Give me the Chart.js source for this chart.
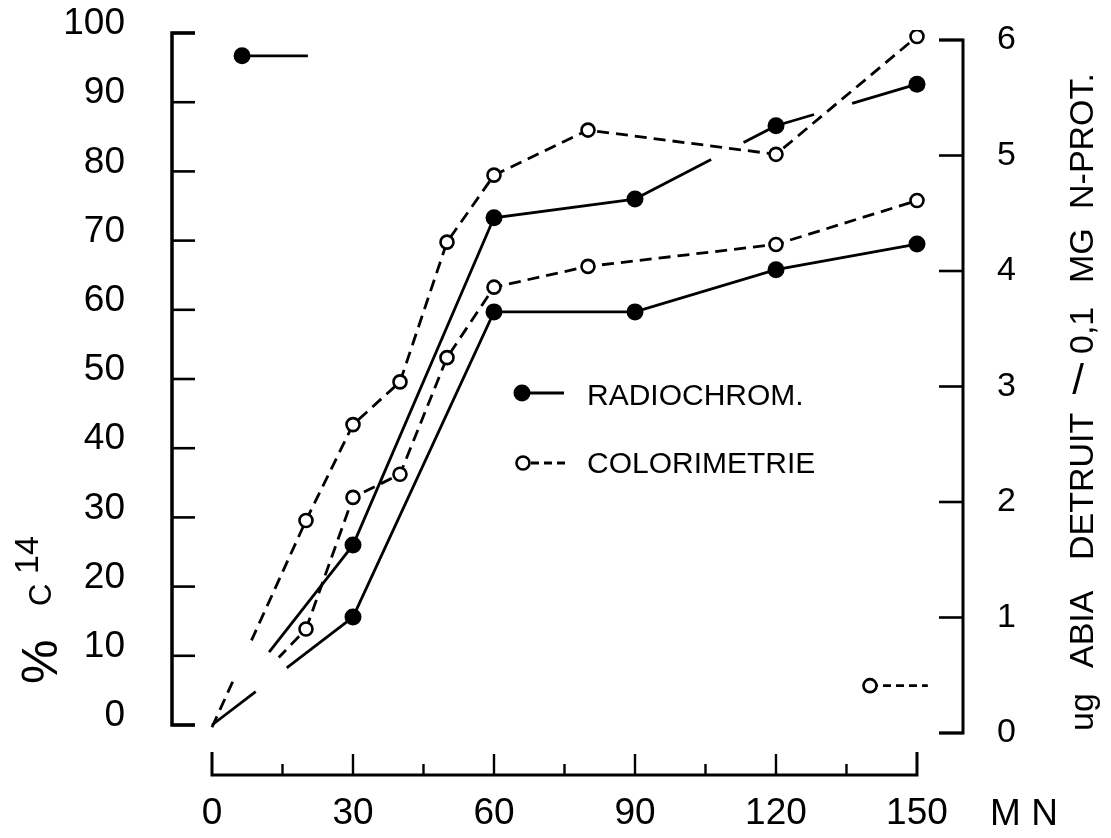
<!DOCTYPE html>
<html>
<head>
<meta charset="utf-8">
<script src="https://cdn.jsdelivr.net/npm/chart.js@4.4.1/dist/chart.umd.min.js"></script>
<style>
html,body{margin:0;padding:0;background:#fff;}
#wrap{width:1111px;height:838px;position:relative;}
</style>
</head>
<body>
<div id="wrap"><canvas id="c" width="1111" height="838"></canvas></div>
<script>
// ---------- data ----------
const radioMinutes = [0, 30, 60, 90, 120, 150];
const radioHigh    = [0, 26.0, 73.3, 76.0, 86.6, 92.6];   // % C14
const radioLow     = [0, 15.6, 59.7, 59.7, 65.8, 69.5];   // % C14
const colorMinutes = [0, 20, 30, 40, 50, 60, 80, 120, 150];
const colorHigh    = [0.05, 1.84, 2.67, 3.04, 4.25, 4.83, 5.22, 5.01, 6.03]; // ug ABIA
const colorLow     = [0.05, 0.90, 2.04, 2.24, 3.25, 3.86, 4.04, 4.23, 4.61]; // ug ABIA
const keyRadioX = [6.4, 20.4];
const keyRadioY = [96.7, 96.7];
const keyColorX = [140, 152.3];
const keyColorY = [0.41, 0.41];

const xTicks      = [0, 30, 60, 90, 120, 150];
const xMinorTicks = [15, 45, 75, 105, 135];
const leftTicks   = [0, 10, 20, 30, 40, 50, 60, 70, 80, 90, 100];
const rightTicks  = [0, 1, 2, 3, 4, 5, 6];
const seriesNames = ['RADIOCHROM.', 'COLORIMETRIE'];
const leftTitle   = ['%', 'C', '14'];
const rightTitle  = ['ug', 'ABIA', 'DETRUIT', '/', '0,1', 'MG', 'N-PROT.'];
const xUnit = 'M N';

// ---------- styling ----------
const FONT = "'Liberation Sans', Arial, sans-serif";
// hand-drawn interruptions of some segments (fraction of segment length)
const GAPS = {
  radioHigh: {0: [0, 0.405], 3: [0.54, 0.77], 4: [0.27, 0.54]},
  radioLow:  {0: [0.31, 0.53]},
  colorHigh: {0: [0.24, 0.42]},
  colorLow:  {0: [0, 0.71]}
};
const DASH = [12, 7];

function gapDash(gaps, pattern) {
  return ctx => {
    const g = gaps[ctx.p0DataIndex];
    if (!g) return undefined;
    const L = Math.hypot(ctx.p1.x - ctx.p0.x, ctx.p1.y - ctx.p0.y);
    const on = [];
    if (!pattern.length) on.push([0, L]);
    else {
      let p = 0, i = 0;
      while (p < L) {
        const len = pattern[i % pattern.length];
        if (i % 2 === 0) on.push([p, Math.min(p + len, L)]);
        p += len; i++;
      }
    }
    const a = g[0] * L, b = g[1] * L;
    const res = [];
    for (const [s, e] of on) {
      if (e <= a || s >= b) res.push([s, e]);
      else { if (s < a) res.push([s, a]); if (e > b) res.push([b, e]); }
    }
    const arr = [0]; let cur = 0;
    for (const [s, e] of res) { arr.push(s - cur); arr.push(e - s); cur = e; }
    arr.push(L + 1000);
    return arr;
  };
}

const toXY = (xs, ys) => xs.map((x, i) => ({x, y: ys[i]}));

const decor = {
  id: 'decor',
  afterDraw(chart) {
    const {ctx, chartArea, scales} = chart;
    const X = scales.x, Y = scales.y, Y1 = scales.y1;
    ctx.save();
    ctx.strokeStyle = '#000'; ctx.fillStyle = '#000';
    ctx.lineCap = 'butt'; ctx.lineJoin = 'miter';

    // left axis
    const lx = chartArea.left;
    ctx.lineWidth = 3.5;
    ctx.beginPath();
    ctx.moveTo(lx + 23, Y.getPixelForValue(leftTicks[leftTicks.length - 1]));
    ctx.lineTo(lx, Y.getPixelForValue(leftTicks[leftTicks.length - 1]));
    ctx.lineTo(lx, Y.getPixelForValue(leftTicks[0]));
    ctx.lineTo(lx + 23, Y.getPixelForValue(leftTicks[0]));
    ctx.stroke();
    ctx.lineWidth = 2.6;
    leftTicks.forEach(v => {
      const p = Y.getPixelForValue(v);
      ctx.beginPath(); ctx.moveTo(lx, p); ctx.lineTo(lx + 23, p); ctx.stroke();
    });

    // right axis
    const rx = chartArea.right;
    ctx.lineWidth = 3;
    ctx.beginPath();
    ctx.moveTo(rx - 24, Y1.getPixelForValue(rightTicks[rightTicks.length - 1]));
    ctx.lineTo(rx, Y1.getPixelForValue(rightTicks[rightTicks.length - 1]));
    ctx.lineTo(rx, Y1.getPixelForValue(rightTicks[0]));
    ctx.lineTo(rx - 24, Y1.getPixelForValue(rightTicks[0]));
    ctx.stroke();
    ctx.lineWidth = 2.6;
    rightTicks.forEach(v => {
      const p = Y1.getPixelForValue(v);
      ctx.beginPath(); ctx.moveTo(rx - 24, p); ctx.lineTo(rx, p); ctx.stroke();
    });

    // bottom time axis
    const ay = chartArea.bottom + 30;
    const x0 = X.getPixelForValue(xTicks[0]), x1 = X.getPixelForValue(xTicks[xTicks.length - 1]);
    ctx.lineWidth = 3;
    ctx.beginPath();
    ctx.moveTo(x0, ay - 23); ctx.lineTo(x0, ay); ctx.lineTo(x1, ay); ctx.lineTo(x1, ay - 23);
    ctx.stroke();
    ctx.lineWidth = 2.4;
    xTicks.slice(1, -1).forEach(v => {
      const p = X.getPixelForValue(v);
      ctx.beginPath(); ctx.moveTo(p, ay); ctx.lineTo(p, ay - 21); ctx.stroke();
    });
    xMinorTicks.forEach(v => {
      const p = X.getPixelForValue(v);
      ctx.beginPath(); ctx.moveTo(p, ay); ctx.lineTo(p, ay - 11); ctx.stroke();
    });

    // x unit
    ctx.font = '37px ' + FONT;
    ctx.textAlign = 'center'; ctx.textBaseline = 'middle';
    ctx.fillText(xUnit, 1024, 815);

    // rotated text helper (reads bottom to top)
    const rot = (txt, font, bx, startY) => {
      ctx.save();
      ctx.translate(bx, startY);
      ctx.rotate(-Math.PI / 2);
      ctx.font = font; ctx.textAlign = 'left'; ctx.textBaseline = 'alphabetic';
      ctx.fillText(txt, 0, 0);
      ctx.restore();
    };
    // left title  % C14
    rot(leftTitle[0], '50px ' + FONT, 57, 684);
    rot(leftTitle[1], '31px ' + FONT, 51, 606);
    rot(leftTitle[2], '34px ' + FONT, 38, 574);

    // right title
    const rf = '34px ' + FONT;
    rot(rightTitle[0], rf, 1093, 731);
    rot(rightTitle[1], rf, 1093, 668);
    rot(rightTitle[2], rf, 1093, 560);
    ctx.font = '42px ' + FONT; ctx.textAlign = 'center'; ctx.textBaseline = 'middle';
    ctx.fillText(rightTitle[3], 1078, 382);
    rot(rightTitle[4], rf, 1093, 354);
    rot(rightTitle[5], rf, 1093, 283);
    rot(rightTitle[6], rf, 1093, 209);

    // legend
    ctx.lineWidth = 2.8;
    ctx.beginPath(); ctx.arc(522, 393, 8.5, 0, Math.PI * 2); ctx.fill();
    ctx.beginPath(); ctx.moveTo(530, 393); ctx.lineTo(564, 393); ctx.stroke();
    ctx.setLineDash([8, 5]);
    ctx.beginPath(); ctx.moveTo(531, 463); ctx.lineTo(568, 463); ctx.stroke();
    ctx.setLineDash([]);
    ctx.lineWidth = 2.6; ctx.fillStyle = '#fff';
    ctx.beginPath(); ctx.arc(523, 463, 6.5, 0, Math.PI * 2); ctx.fill(); ctx.stroke();
    ctx.fillStyle = '#000';
    ctx.font = '30px ' + FONT; ctx.textAlign = 'left'; ctx.textBaseline = 'alphabetic';
    ctx.fillText(seriesNames[0], 587, 405);
    ctx.fillText(seriesNames[1], 587, 473);
    ctx.restore();
  }
};

const filled = {
  borderColor: '#000', borderWidth: 2.8, fill: false, tension: 0,
  pointBackgroundColor: '#000', pointBorderColor: '#000', pointBorderWidth: 0,
  pointRadius: c => c.dataIndex === 0 ? 0 : 8.5
};
const open = {
  borderColor: '#000', borderWidth: 2.8, fill: false, tension: 0, borderDash: DASH,
  pointBackgroundColor: '#fff', pointBorderColor: '#000', pointBorderWidth: 2.6,
  pointRadius: c => c.dataIndex === 0 ? 0 : 6.5
};

new Chart(document.getElementById('c'), {
  type: 'line',
  data: {
    datasets: [
      Object.assign({}, open, {label: seriesNames[1] + ' a', yAxisID: 'y1', data: toXY(colorMinutes, colorHigh),
        segment: {borderDash: gapDash(GAPS.colorHigh, DASH)}}),
      Object.assign({}, open, {label: seriesNames[1] + ' b', yAxisID: 'y1', data: toXY(colorMinutes, colorLow),
        segment: {borderDash: gapDash(GAPS.colorLow, DASH)}}),
      Object.assign({}, filled, {label: seriesNames[0] + ' a', yAxisID: 'y', data: toXY(radioMinutes, radioHigh),
        segment: {borderDash: gapDash(GAPS.radioHigh, [])}}),
      Object.assign({}, filled, {label: seriesNames[0] + ' b', yAxisID: 'y', data: toXY(radioMinutes, radioLow),
        segment: {borderDash: gapDash(GAPS.radioLow, [])}}),
      Object.assign({}, filled, {label: 'key radio', yAxisID: 'y', data: toXY(keyRadioX, keyRadioY),
        pointRadius: c => c.dataIndex === 0 ? 8.5 : 0}),
      Object.assign({}, open, {label: 'key color', yAxisID: 'y1', data: toXY(keyColorX, keyColorY),
        borderDash: [8, 5], pointRadius: c => c.dataIndex === 0 ? 6.5 : 0})
    ]
  },
  options: {
    responsive: false,
    devicePixelRatio: 1,
    animation: false,
    events: [],
    layout: {padding: {top: 30, left: 0, right: 0, bottom: 0}},
    plugins: {legend: {display: false}, tooltip: {enabled: false}, title: {display: false}},
    scales: {
      x: {
        type: 'linear', position: 'bottom', min: -8.51, max: 159.79,
        grid: {display: false, drawTicks: true, tickLength: 50}, border: {display: false},
        afterBuildTicks: s => { s.ticks = xTicks.map(v => ({value: v})); },
        afterFit: s => { s.height = 93; },
        ticks: {color: '#000', font: {family: FONT, size: 37, lineHeight: 1}, padding: 0,
                maxRotation: 0, autoSkip: false}
      },
      y: {
        type: 'linear', position: 'left', min: -2.89, max: 100.434,
        grid: {display: false, drawTicks: true, tickLength: 47}, border: {display: false},
        afterBuildTicks: s => { s.ticks = leftTicks.map(v => ({value: v})); },
        afterFit: s => { s.width = 172; },
        ticks: {color: '#000', font: {family: FONT, size: 37, lineHeight: 1}, padding: 0, labelOffset: -9}
      },
      y1: {
        type: 'linear', position: 'right', min: -0.1039, max: 6.0866,
        grid: {display: false, drawTicks: true, tickLength: 34}, border: {display: false},
        afterBuildTicks: s => { s.ticks = rightTicks.map(v => ({value: v})); },
        afterFit: s => { s.width = 148; },
        ticks: {color: '#000', font: {family: FONT, size: 34, lineHeight: 1}, padding: 0}
      }
    }
  },
  plugins: [decor]
});
</script>
</body>
</html>
